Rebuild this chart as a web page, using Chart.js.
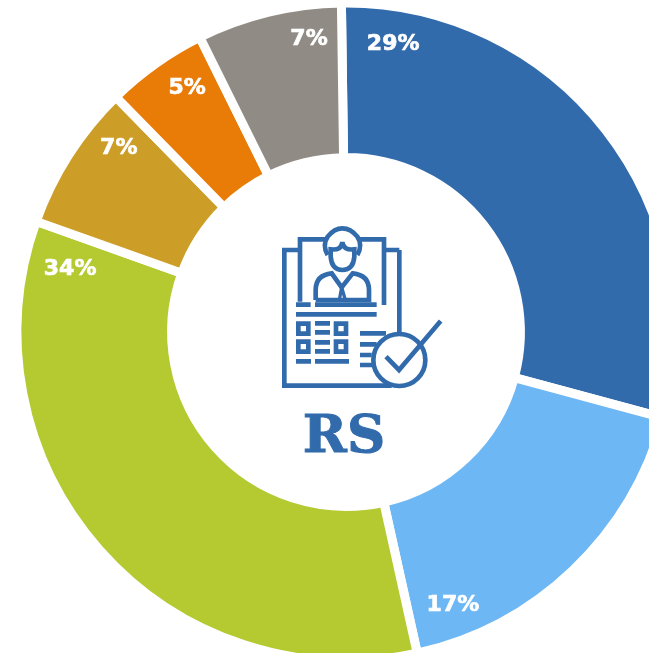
<!DOCTYPE html>
<html>
<head>
<meta charset="utf-8">
<style>
  html, body { margin: 0; padding: 0; background: #fff; overflow: hidden; width: 649px; height: 653px; }
  #chart { position: absolute; left: 0; top: -14px; }
  #icon { position: absolute; left: 260px; top: 210px; }
  #icon * { fill: none; stroke: #326bac; stroke-width: 14; }
</style>
<script src="https://cdn.jsdelivr.net/npm/chart.js@4"></script>
</head>
<body>
<canvas id="chart" width="692" height="692"></canvas>
<svg id="icon" width="200" height="260" viewBox="0 0 600 780">
  <path d="M115 120H73V527H395M418 120H378M418 120V372"/>
  <path d="M195 88H120V275M300 88H372V285"/>
  <path d="M108 284H152M165 284H350M108 313H350" style="stroke-width:14"/>
  <path d="M203 135Q186 105 203 80Q223 55 247 55Q272 55 292 80Q309 105 292 135"/>
  <path d="M212 118V140Q215 180 247 180Q280 180 283 140V118Q250 122 247 96Q245 122 212 118Z"/>
  <path d="M167 270V240Q167 195 215 190L245 232L278 190Q327 195 327 240V270H167"/>
  <path d="M238 270L245 232L256 270" style="stroke-width:10"/>
  <path d="M115 341h30v30h-30zM115 395h30v30h-30zM228 341h30v30h-30zM228 395h30v30h-30z"/>
  <path d="M165 340H210M165 367H210M165 397H210M165 424H210M108 454H153M165 454H267"/>
  <path d="M300 370H378M300 403H350M300 435H335M300 465H345"/>
  <circle cx="418" cy="450" r="78"/>
  <path d="M378 440L417 480L542 333"/>
</svg>
<script>
const categories = ["A", "B", "C", "D", "E", "F"];
const shares = [29.4, 17.3, 33.9, 7.2, 5.0, 7.1];
const shareLabels = ["29%", "17%", "34%", "7%", "5%", "7%"];
const colors = ["#326bac", "#6db7f4", "#b5c931", "#cc9e27", "#e97b07", "#908c85"];

// where each label sits on the ring: clockwise degrees from the top, px from the centre
const labelAngles = [9.3, 158.6, 282.9, 308.9, 326.9, 352.8];
const labelRadii = [292, 293, 283, 292, 291, 295];

const ringLabels = {
  id: "ringLabels",
  afterDraw(chart) {
    const { ctx } = chart;
    const arc = chart.getDatasetMeta(0).data[0];
    ctx.save();
    ctx.fillStyle = "#fff";
    ctx.strokeStyle = "#fff";
    ctx.lineWidth = 0.7;
    ctx.textAlign = "center";
    ctx.textBaseline = "middle";
    ctx.font = "bold 22px 'DejaVu Sans'";
    shareLabels.forEach((text, i) => {
      const a = labelAngles[i] * Math.PI / 180;
      const x = arc.x + labelRadii[i] * Math.sin(a);
      const y = arc.y - labelRadii[i] * Math.cos(a);
      ctx.fillText(text, x, y);
      ctx.strokeText(text, x, y);
    });
    // centre title
    ctx.fillStyle = "#326bac";
    ctx.strokeStyle = "#326bac";
    ctx.lineWidth = 1;
    ctx.font = "bold 53px 'DejaVu Serif'";
    ctx.fillText("RS", arc.x - 2, arc.y + 106);
    ctx.strokeText("RS", arc.x - 2, arc.y + 106);
    ctx.restore();
  },
};

new Chart(document.getElementById("chart"), {
  type: "doughnut",
  data: {
    labels: categories,
    datasets: [{
      data: shares,
      backgroundColor: colors,
      // white outline makes the gaps between the slices
      borderColor: "#fff",
      borderWidth: 9,
      borderAlign: "center",
    }],
  },
  options: {
    responsive: false,
    animation: false,
    radius: 329,
    cutout: 181,
    rotation: -0.8,
    plugins: { legend: { display: false }, tooltip: { enabled: false } },
  },
  plugins: [ringLabels],
});
</script>
</body>
</html>
